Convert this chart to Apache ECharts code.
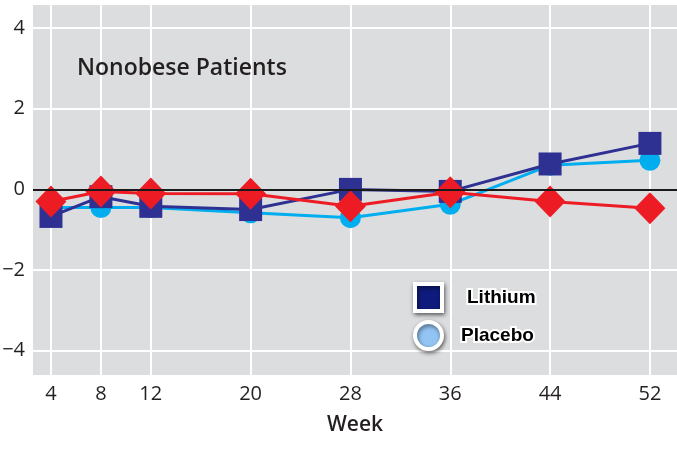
<!DOCTYPE html>
<html>
<head>
<meta charset="utf-8">
<script src="https://cdn.jsdelivr.net/npm/echarts@6/dist/echarts.min.js"></script>
<style>
html,body{margin:0;padding:0;background:#fff;}
#chart{width:677px;height:452px;}
</style>
</head>
<body>
<div id="chart"></div>
<script>
const weeks = [4, 8, 12, 20, 28, 36, 44, 52];
const lithium = [-0.67, -0.18, -0.42, -0.5, 0.0, -0.05, 0.63, 1.14];
const placebo = [-0.45, -0.45, -0.45, -0.58, -0.7, -0.37, 0.6, 0.72];
const other = [-0.3, -0.05, -0.1, -0.11, -0.42, -0.07, -0.3, -0.47];
const yTicks = [-4, -2, 0, 2, 4];
const titleText = 'Nonobese Patients';
const xName = 'Week';

const pairs = arr => weeks.map((w, i) => [w, arr[i]]);
const txt = '#231f20';
const fontFam = '"Open Sans", "Noto Sans", sans-serif';

const chart = echarts.init(document.getElementById('chart'), null, {renderer: 'canvas'});
chart.setOption({
  animation: false,
  backgroundColor: '#ffffff',
  title: {
    text: titleText,
    left: 72, top: 52,
    textStyle: {fontFamily: fontFam, fontSize: 23, fontWeight: 600, color: txt}
  },
  grid: {left: 33, right: 0, top: 5, bottom: 77, show: true, backgroundColor: '#dcdddf', borderWidth: 0, outerBoundsMode: 'none'},
  xAxis: {
    type: 'value', min: 2.56, max: 54.17,
    axisLine: {show: false}, 
    axisTick: {show: false, customValues: weeks},
    axisLabel: {customValues: weeks, margin: 9, fontFamily: fontFam, fontSize: 20, color: txt},
    splitLine: {show: true, lineStyle: {color: '#ffffff', width: 2}},
    name: xName, nameLocation: 'middle', nameGap: 40,
    nameTextStyle: {fontFamily: fontFam, fontSize: 21, fontWeight: 600, color: txt}
  },
  yAxis: {
    type: 'value', min: -4.6, max: 4.57,
    axisLine: {show: false},
    axisTick: {show: false, customValues: yTicks},
    axisLabel: {customValues: yTicks, margin: 8, fontFamily: fontFam, fontSize: 20, color: txt,
      formatter: v => (v < 0 ? '\u2212' + Math.abs(v) : String(v))},
    splitLine: {show: true, lineStyle: {color: '#ffffff', width: 2}}
  },
  legend: {
    orient: 'vertical', left: 413, top: 282, padding: 0,
    itemWidth: 27, itemHeight: 27, itemGap: 7,
    selectedMode: false,
    textStyle: {fontFamily: '"Liberation Sans", Arial, sans-serif', fontSize: 19, fontWeight: 'bold', color: '#000',
      textBorderColor: '#ffffff', textBorderWidth: 4},
    data: [
      {name: 'Lithium', icon: 'rect',
        itemStyle: {color: '#0f1b7c', borderColor: '#ffffff', borderWidth: 4, shadowBlur: 4, shadowColor: 'rgba(0,0,0,0.5)', shadowOffsetX: 1, shadowOffsetY: 2},
        textStyle: {padding: [0, 0, 0, 20]}},
      {name: 'Placebo', icon: 'circle',
        itemStyle: {color: '#93c5f4', borderColor: '#ffffff', borderWidth: 4, shadowBlur: 4, shadowColor: 'rgba(0,0,0,0.5)', shadowOffsetX: 1, shadowOffsetY: 2},
        textStyle: {padding: [0, 0, 0, 14]}}
    ]
  },
  series: [
    {
      name: 'Placebo', type: 'line', data: pairs(placebo),
      symbol: 'circle', symbolSize: 21,
      lineStyle: {color: '#00aeef', width: 3},
      itemStyle: {color: '#00aeef'},
      markLine: {
        silent: true, symbol: 'none', label: {show: false},
        lineStyle: {color: '#1a1a1a', width: 2, type: 'solid'},
        data: [{yAxis: 0}]
      }
    },
    {
      name: 'Lithium', type: 'line', data: pairs(lithium),
      symbol: 'rect', symbolSize: 23,
      lineStyle: {color: '#2e3192', width: 3},
      itemStyle: {color: '#2e3192'}
    },
    {
      name: 'Other', type: 'line', data: pairs(other),
      symbol: 'diamond', symbolSize: [31, 32],
      lineStyle: {color: '#ed1c24', width: 3},
      itemStyle: {color: '#ed1c24'}
    }
  ]
});
</script>
</body>
</html>
